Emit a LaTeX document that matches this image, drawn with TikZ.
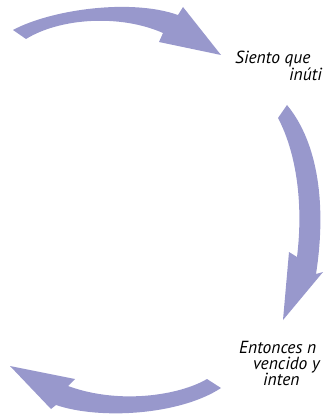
\documentclass[tikz,border=0pt]{standalone}
\usepackage{fontspec}
\setmainfont{PT Sans}
\definecolor{arrowc}{RGB}{152,152,204}
\begin{document}
\begin{tikzpicture}[x=1pt,y=-1pt,
  bigarrow/.style={fill=arrowc,draw=none},
  lbl/.style={anchor=base west,inner sep=0pt,font=\fontsize{17.5}{18}\selectfont\itshape}]
\useasboundingbox (0,0) rectangle (324,417);
% top arrow
\fill[bigarrow] (13,30) .. controls (50,10) and (130,-2) .. (178,15)
  -- (183,7) -- (221,55) -- (159,42) -- (163,33)
  .. controls (120,14) and (60,18) .. (26,39) -- cycle;
% right arrow
\fill[bigarrow] (287,105) -- (278,118) .. controls (295,150) and (304,200) .. (297,257)
  -- (289,252) -- (283,320) -- (323,272) -- (316,274)
  .. controls (326,210) and (320,145) .. (287,105) -- cycle;
% bottom arrow
\fill[bigarrow] (10,366) -- (75,379) -- (68,386)
  .. controls (120,405) and (180,395) .. (207,379) -- (221,388)
  .. controls (180,415) and (100,420) .. (56,405) -- (51,409) -- cycle;
% texts
\node[lbl] (t1) at (235,64) {Siento que};
\node[lbl] (t2) at (289,81) {inúti};
\node[lbl] (t3) at (239,353) {Entonces n};
\node[lbl] (t4) at (253,369) {vencido y};
\node[lbl] (t5) at (263,385) {inten};
\end{tikzpicture}
\end{document}
